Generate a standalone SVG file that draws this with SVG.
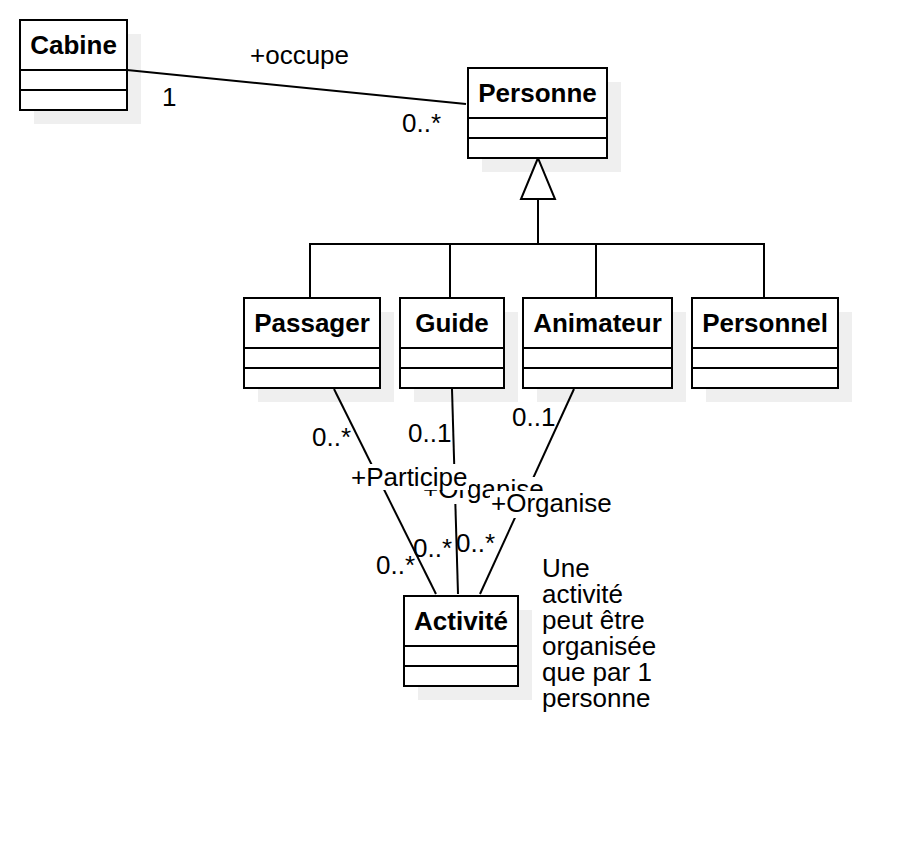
<svg xmlns="http://www.w3.org/2000/svg" width="918" height="860" viewBox="0 0 918 860">
<style>
text{font-family:"Liberation Sans",Arial,sans-serif;font-size:26px;fill:#000}
.t{font-weight:bold;text-anchor:middle}
.box{fill:#fff;stroke:#000;stroke-width:2}
.sh{fill:#efefef}
.ln{stroke:#000;stroke-width:2;fill:none}
.bg{fill:#fff}
</style>
<rect width="918" height="860" fill="#fff"/>
<g id="shadows">
<rect class="sh" x="34" y="34" width="107" height="90"/>
<rect class="sh" x="482" y="82" width="139" height="90"/>
<rect class="sh" x="258" y="312" width="136" height="90"/>
<rect class="sh" x="414" y="312" width="104" height="90"/>
<rect class="sh" x="537" y="312" width="149" height="90"/>
<rect class="sh" x="706" y="312" width="146" height="90"/>
<rect class="sh" x="418" y="610" width="114" height="90"/>
</g>
<g id="connectors">
<line class="ln" x1="127" y1="70" x2="466" y2="104"/>
<polyline class="ln" points="538,199 538,244"/>
<polyline class="ln" points="310,298 310,244 764,244 764,298"/>
<line class="ln" x1="450" y1="244" x2="450" y2="298"/>
<line class="ln" x1="596" y1="244" x2="596" y2="298"/>
<polygon points="538,158 521,199 555,199" fill="#fff" stroke="#000" stroke-width="2"/>
<line class="ln" x1="334" y1="389" x2="436" y2="594"/>
<line class="ln" x1="452" y1="389" x2="458" y2="594"/>
<line class="ln" x1="574" y1="389" x2="480" y2="594"/>
<text x="250" y="64">+occupe</text>
<text x="162" y="106">1</text>
<text x="402" y="132">0..*</text>
<text x="312" y="446">0..*</text>
<text x="408" y="442">0..1</text>
<text x="512" y="426">0..1</text>
<rect class="bg" x="422" y="477" width="122" height="27"/>
<text x="423" y="498">+Organise</text>
<rect class="bg" x="350" y="464" width="119" height="26"/>
<text x="351" y="486">+Participe</text>
<rect class="bg" x="490" y="491" width="123" height="27"/>
<text x="491" y="512">+Organise</text>
<text x="376" y="574">0..*</text>
<text x="413" y="557">0..*</text>
<text x="456" y="552">0..*</text>
</g>
<g id="Cabine">
<rect class="box" x="20" y="20" width="107" height="90"/>
<line class="ln" x1="20" y1="70" x2="127" y2="70"/>
<line class="ln" x1="20" y1="90" x2="127" y2="90"/>
<text class="t" x="73.5" y="54">Cabine</text>
</g>
<g id="Personne">
<rect class="box" x="468" y="68" width="139" height="90"/>
<line class="ln" x1="468" y1="118" x2="607" y2="118"/>
<line class="ln" x1="468" y1="138" x2="607" y2="138"/>
<text class="t" x="537.5" y="102">Personne</text>
</g>
<g id="Passager">
<rect class="box" x="244" y="298" width="136" height="90"/>
<line class="ln" x1="244" y1="348" x2="380" y2="348"/>
<line class="ln" x1="244" y1="368" x2="380" y2="368"/>
<text class="t" x="312" y="332">Passager</text>
</g>
<g id="Guide">
<rect class="box" x="400" y="298" width="104" height="90"/>
<line class="ln" x1="400" y1="348" x2="504" y2="348"/>
<line class="ln" x1="400" y1="368" x2="504" y2="368"/>
<text class="t" x="452" y="332">Guide</text>
</g>
<g id="Animateur">
<rect class="box" x="523" y="298" width="149" height="90"/>
<line class="ln" x1="523" y1="348" x2="672" y2="348"/>
<line class="ln" x1="523" y1="368" x2="672" y2="368"/>
<text class="t" x="597.5" y="332">Animateur</text>
</g>
<g id="Personnel">
<rect class="box" x="692" y="298" width="146" height="90"/>
<line class="ln" x1="692" y1="348" x2="838" y2="348"/>
<line class="ln" x1="692" y1="368" x2="838" y2="368"/>
<text class="t" x="765" y="332">Personnel</text>
</g>
<g id="Activite">
<rect class="box" x="404" y="596" width="114" height="90"/>
<line class="ln" x1="404" y1="646" x2="518" y2="646"/>
<line class="ln" x1="404" y1="666" x2="518" y2="666"/>
<text class="t" x="461" y="630">Activité</text>
</g>
<g id="note">
<text x="542" y="577">Une</text>
<text x="542" y="603">activité</text>
<text x="542" y="629">peut être</text>
<text x="542" y="655">organisée</text>
<text x="542" y="681">que par 1</text>
<text x="542" y="707">personne</text>
</g>
</svg>
